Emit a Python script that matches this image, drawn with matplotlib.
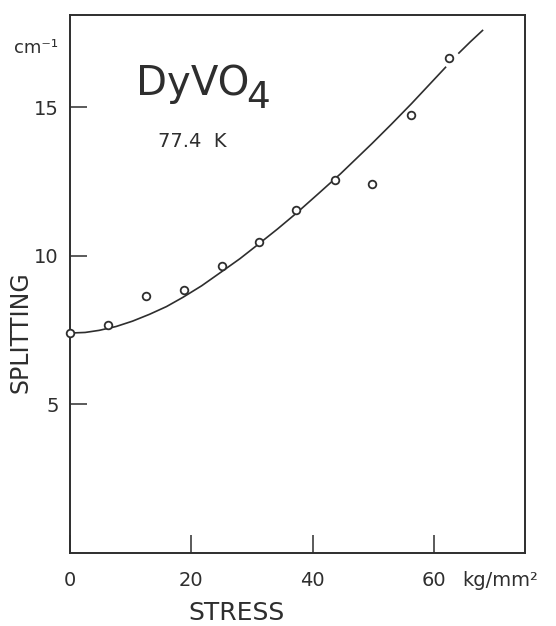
import matplotlib
matplotlib.use("Agg")
import matplotlib.pyplot as plt
import numpy as np

# measured points (stress in kg/mm^2, splitting in cm^-1)
stress = [0.0, 6.3, 12.5, 18.8, 25.0, 31.1, 37.3, 43.7, 49.8, 56.2, 62.5]
splitting = [7.40, 7.66, 8.63, 8.86, 9.65, 10.47, 11.54, 12.56, 12.41, 14.73, 16.67]

# drawn curve (broken near the last point)
curve_x = [0.0, 2.5, 4.8, 7.6, 10.3, 13.1, 15.9, 18.6, 21.7, 24.9, 28.0, 31.0,
           34.2, 37.3, 41.0, 44.6, 47.2, 49.8, 53.0, 56.3, 59.1, 61.9]
curve_y = [7.40, 7.42, 7.49, 7.62, 7.80, 8.03, 8.29, 8.60, 8.99, 9.45, 9.90, 10.38,
           10.90, 11.43, 12.10, 12.76, 13.27, 13.78, 14.43, 15.12, 15.73, 16.34]
curve2_x = [64.1, 66.0, 68.0]
curve2_y = [16.82, 17.20, 17.58]

xticks = [0, 20, 40, 60]
yticks = [5, 10, 15]

ink = "#2e2e2e"
plt.rcParams["font.family"] = ["DejaVu Sans"]

fig = plt.figure(figsize=(5.56, 6.26), dpi=100)
ax = fig.add_axes([70 / 556, 1 - 553 / 626, 455 / 556, 538 / 626])

ax.plot(curve_x, curve_y, color=ink, lw=1.2, zorder=2)
ax.plot(curve2_x, curve2_y, color=ink, lw=1.2, zorder=2)
ax.plot(stress, splitting, "o", ms=5.5, mfc="white", mec=ink, mew=1.3,
        zorder=3, clip_on=False)

ax.set_xlim(0, 75.0)
ax.set_ylim(0, 18.1)
ax.set_xticks(xticks)
ax.set_yticks(yticks)
ax.tick_params(axis="x", direction="in", length=13, width=1.1, pad=13,
               labelsize=14, colors=ink)
ax.tick_params(axis="y", direction="in", length=12.5, width=1.1, pad=8,
               labelsize=14, colors=ink)
for s in ax.spines.values():
    s.set_linewidth(1.4)
    s.set_color(ink)

W, H = 556, 626


def ftext(px, py, s, **kw):
    fig.text(px / W, 1 - py / H, s, color=ink, **kw)


ftext(14, 53, "cm⁻¹", fontsize=13, va="baseline")
ftext(136, 95, "DyVO", fontsize=29, va="baseline")
ftext(246, 108, "4", fontsize=27, va="baseline")
ftext(158, 147, "77.4  K", fontsize=14, va="baseline")
ftext(462, 586, "kg/mm²", fontsize=14, va="baseline")
ftext(236, 620, "STRESS", fontsize=18, ha="center", va="baseline")
ftext(21, 332, "SPLITTING", fontsize=17, ha="center", va="center",
      rotation=90)

fig.savefig("out.png", dpi=100)
